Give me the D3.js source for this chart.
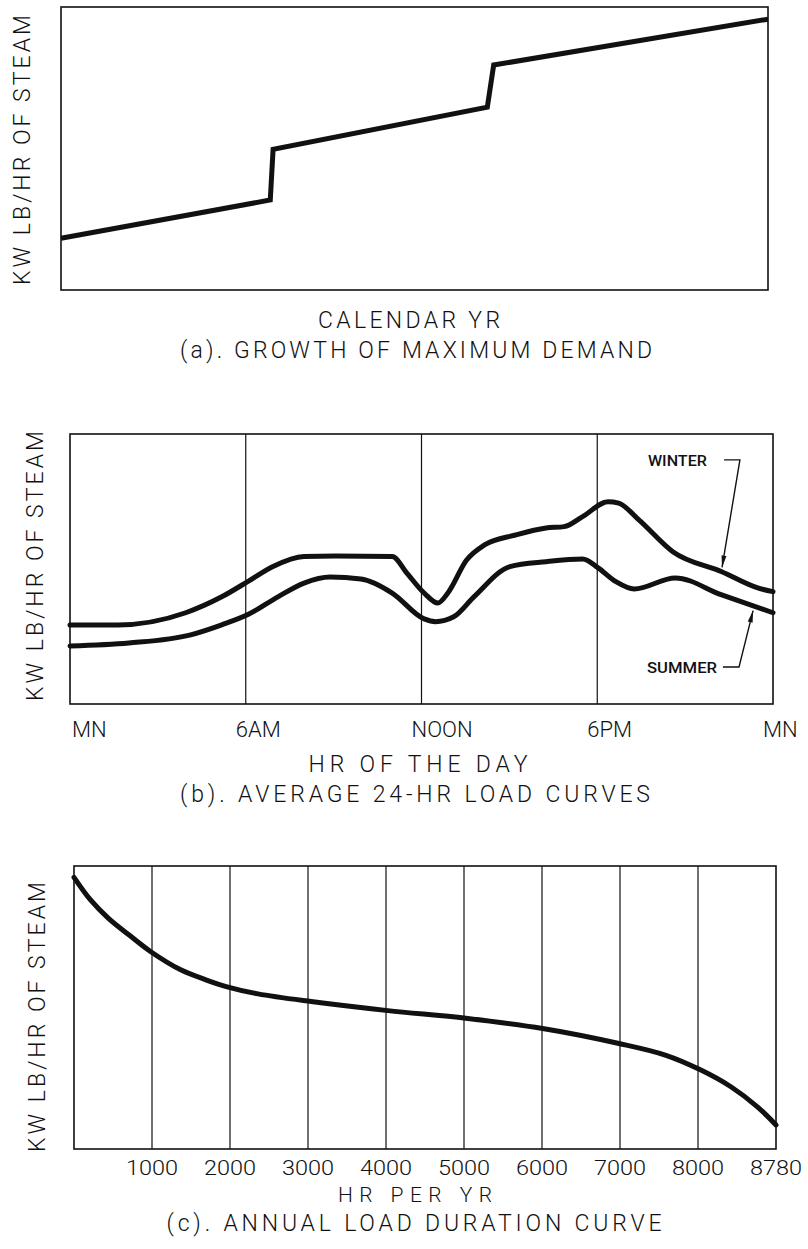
<!DOCTYPE html>
<html>
<head>
<meta charset="utf-8">
<script src="https://cdn.jsdelivr.net/npm/d3@7"></script>
<style>
  body { margin: 0; background: #fff; }
  svg text { font-family: Roboto, "Liberation Sans", sans-serif; font-weight: 300; fill: #111; }
</style>
</head>
<body>
<div id="wrapper"></div>
<script>
// (a) growth of maximum demand - calendar years vs relative demand
const demandYears = [0, 2.96, 3.0, 6.03, 6.12, 10]
const demandLoad = [18.3, 31.8, 49.7, 64.6, 79.5, 95.7]

// (b) average 24-hr load curves (hour of day vs relative load)
const winterHours = [0, 1.64, 3.95, 5.18, 6.11, 6.93, 7.99, 9.05, 11.0, 11.5, 12.09, 12.56, 12.9,
  13.54, 14.15, 15.21, 16.25, 16.87, 17.5, 18.37, 18.73, 19.43, 20.58, 22.25, 23.48, 24]
const winterLoad = [29.3, 29.3, 33.8, 39.7, 45.6, 50.9, 54.6, 54.8, 54.6, 48.5, 41.1, 37.4, 41.1,
  53.3, 58.9, 62.6, 65.2, 65.7, 69.4, 74.9, 74.4, 68.1, 56.4, 49.0, 43.0, 41.6]
const summerHours = [0, 2.01, 4.12, 5.18, 6.11, 7.1, 7.99, 8.88, 9.93, 11.0, 12.09, 12.48, 13.1,
  13.79, 15.02, 16.25, 17.5, 18.03, 18.64, 19.26, 20.66, 22.25, 24]
const summerLoad = [21.5, 22.6, 25.6, 29.3, 33.3, 39.7, 44.8, 47.0, 46.3, 41.1, 31.5, 30.5, 32.3,
  39.7, 50.9, 52.7, 53.7, 50.4, 45.3, 42.6, 46.7, 40.4, 33.8]
const dayTicks = [0, 6, 12, 18, 24]
const dayTickLabels = ["MN", "6AM", "NOON", "6PM", "MN"]

// (c) annual load duration curve
const durationHours = [0, 212, 442, 707, 985, 1368, 1699, 1963, 2359, 3040, 4024, 5023, 6008,
  6986, 7580, 8029, 8329, 8594, 8780]
const durationLoad = [96, 88, 81.5, 75.6, 69.7, 63.3, 59.7, 57.3, 54.8, 52.1, 48.9, 46.2, 42.6,
  37.3, 33.2, 27.9, 22, 14.9, 8.5]
const yearTicks = [1000, 2000, 3000, 4000, 5000, 6000, 7000, 8000, 8780]
const yearGrid = [1000, 2000, 3000, 4000, 5000, 6000, 7000, 8000]

const yTitle = "KW LB/HR OF STEAM"

function drawCharts() {
  const svg = d3.select("#wrapper")
    .append("svg")
      .attr("width", 808)
      .attr("height", 1249)

  svg.append("defs").append("marker")
      .attr("id", "arrow")
      .attr("viewBox", "0 0 12 6")
      .attr("refX", 12)
      .attr("refY", 3)
      .attr("markerWidth", 12)
      .attr("markerHeight", 6)
      .attr("markerUnits", "userSpaceOnUse")
      .attr("orient", "auto")
    .append("path")
      .attr("d", "M0,0.5 L12,3 L0,5.5 Z")
      .attr("fill", "#111")

  // centred text, stretched to the width it has in the drawing
  const addText = (x, y, str, size, len) => svg.append("text")
      .attr("x", x)
      .attr("y", y)
      .attr("text-anchor", "middle")
      .attr("textLength", len)
      .attr("lengthAdjust", "spacing")
      .style("font-size", size + "px")
      .text(str)

  const addYTitle = (x, y) => svg.append("text")
      .attr("transform", `translate(${x},${y}) rotate(-90)`)
      .attr("text-anchor", "middle")
      .attr("textLength", 270)
      .attr("lengthAdjust", "spacing")
      .style("font-size", "23px")
      .text(yTitle)

  const makePanel = dims => svg.append("g")
      .attr("transform", `translate(${dims.left},${dims.top})`)

  const drawFrame = (bounds, dims) => bounds.append("rect")
      .attr("width", dims.width)
      .attr("height", dims.height)
      .attr("fill", "none")
      .attr("stroke", "#111")
      .attr("stroke-width", 1.6)

  const curveStyle = path => path
      .attr("fill", "none")
      .attr("stroke", "#111")
      .attr("stroke-width", 5)
      .attr("stroke-linejoin", "round")
      .attr("stroke-linecap", "round")

  // ---------- (a) ----------
  const dimA = { left: 61, top: 7, width: 707, height: 283 }
  const boundsA = makePanel(dimA)
  const xA = d3.scaleLinear().domain([0, 10]).range([0, dimA.width])
  const yA = d3.scaleLinear().domain([0, 100]).range([dimA.height, 0])
  boundsA.append("path")
      .datum(d3.zip(demandYears, demandLoad))
      .attr("d", d3.line().x(d => xA(d[0])).y(d => yA(d[1])))
      .call(curveStyle)
      .attr("stroke-linejoin", "miter")
      .attr("stroke-linecap", "butt")
  drawFrame(boundsA, dimA)
  addYTitle(30, 150)
  addText(409, 328, "CALENDAR YR", 23, 182)
  addText(416, 358, "(a).  GROWTH  OF  MAXIMUM  DEMAND", 23, 472)

  // ---------- (b) ----------
  const dimB = { left: 70, top: 434, width: 703, height: 270 }
  const boundsB = makePanel(dimB)
  const xB = d3.scaleLinear().domain([0, 24]).range([0, dimB.width])
  const yB = d3.scaleLinear().domain([0, 100]).range([dimB.height, 0])

  boundsB.selectAll(".grid")
      .data([6, 12, 18])
    .enter().append("line")
      .attr("x1", d => xB(d))
      .attr("x2", d => xB(d))
      .attr("y1", 0)
      .attr("y2", dimB.height)
      .attr("stroke", "#111")
      .attr("stroke-width", 1.2)

  const lineB = d3.line()
      .x(d => xB(d[0]))
      .y(d => yB(d[1]))
      .curve(d3.curveMonotoneX)
  boundsB.append("path")
      .datum(d3.zip(winterHours, winterLoad))
      .attr("d", lineB)
      .call(curveStyle)
  boundsB.append("path")
      .datum(d3.zip(summerHours, summerLoad))
      .attr("d", lineB)
      .call(curveStyle)

  // season labels with leader arrows
  const leader = d3.line().x(d => xB(d[0])).y(d => yB(d[1]))
  const notes = [
    { name: "WINTER", at: [19.73, 88.1], path: [[22.33, 90.4], [22.87, 90.4], [22.26, 50.6]], len: 59 },
    { name: "SUMMER", at: [19.7, 11.5], path: [[22.29, 13.7], [22.84, 13.7], [23.32, 34.6]], len: 70 },
  ]
  notes.forEach(n => {
    boundsB.append("text")
        .attr("x", xB(n.at[0]))
        .attr("y", yB(n.at[1]))
        .attr("textLength", n.len)
        .attr("lengthAdjust", "spacingAndGlyphs")
        .style("font-size", "15px")
        .style("font-weight", 500)
        .text(n.name)
    boundsB.append("path")
        .attr("d", leader(n.path))
        .attr("fill", "none")
        .attr("stroke", "#111")
        .attr("stroke-width", 1.4)
        .attr("marker-end", "url(#arrow)")
  })
  drawFrame(boundsB, dimB)

  boundsB.selectAll(".tick")
      .data(dayTicks)
    .enter().append("text")
      .attr("x", d => Math.max(xB(d) - 10, 2))
      .attr("y", 737 - dimB.top)
      .style("font-size", "22px")
      .text((d, i) => dayTickLabels[i])

  addYTitle(43, 566)
  addText(418, 772, "HR  OF  THE  DAY", 23, 219)
  addText(415, 802, "(b).  AVERAGE  24-HR  LOAD  CURVES", 23, 470)

  // ---------- (c) ----------
  const dimC = { left: 74, top: 866, width: 702, height: 283 }
  const boundsC = makePanel(dimC)
  // the drawing squeezes the last 780 hours into a shorter interval
  const xC = d3.scaleLinear()
      .domain([0, 8000, 8780])
      .range([0, dimC.width * 8000 / 9000, dimC.width])
  const yC = d3.scaleLinear().domain([0, 100]).range([dimC.height, 0])

  boundsC.selectAll(".grid")
      .data(yearGrid)
    .enter().append("line")
      .attr("x1", d => xC(d))
      .attr("x2", d => xC(d))
      .attr("y1", 0)
      .attr("y2", dimC.height)
      .attr("stroke", "#111")
      .attr("stroke-width", 1.2)

  boundsC.append("path")
      .datum(d3.zip(durationHours, durationLoad))
      .attr("d", d3.line()
        .x(d => xC(d[0]))
        .y(d => yC(d[1]))
        .curve(d3.curveCatmullRom.alpha(0.5)))
      .call(curveStyle)
  drawFrame(boundsC, dimC)

  boundsC.selectAll(".tick")
      .data(yearTicks)
    .enter().append("text")
      .attr("x", d => xC(d))
      .attr("y", 1175 - dimC.top)
      .attr("text-anchor", "middle")
      .attr("textLength", 52)
      .attr("lengthAdjust", "spacingAndGlyphs")
      .style("font-size", "21px")
      .text(d => d)

  addYTitle(45, 1017)
  addText(415, 1202, "HR  PER  YR", 21, 154)
  addText(414, 1231, "(c).  ANNUAL  LOAD  DURATION  CURVE", 23, 495)
}
drawCharts()
</script>
</body>
</html>
